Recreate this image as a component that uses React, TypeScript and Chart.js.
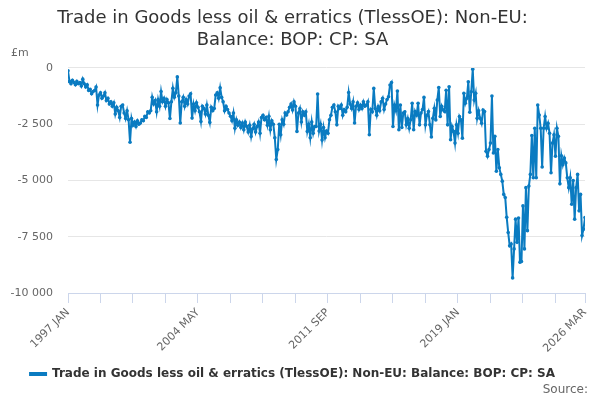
import React, { useEffect, useRef } from 'react';
import { Chart, registerables } from 'chart.js';

Chart.register(...registerables);

const START_YEAR = 1997;
const MONTHS = ['JAN', 'FEB', 'MAR', 'APR', 'MAY', 'JUN', 'JUL', 'AUG', 'SEP', 'OCT', 'NOV', 'DEC'];

// £m, monthly, 1997 JAN .. 2006 DEC
const balance1997to2006 = [
  -130, -600, -700, -550, -650, -750, -600, -700, -650, -800, -500, -700,
  -850, -750, -1000, -950, -1150, -1050, -1000, -850, -1650, -1200, -1100, -1350,
  -1250, -1100, -1450, -1350, -1600, -1500, -1700, -1550, -2050, -1750, -1900, -2200,
  -1700, -1650, -2000, -2250, -1900, -2300, -3300, -2250, -2550, -2400, -2600, -2350,
  -2500, -2450, -2300, -2350, -2150, -2200, -1950, -2000, -1900, -1300, -1600, -1450,
  -1950, -1400, -1700, -1050, -1500, -1350, -1700, -1400, -1550, -2250, -1500, -900,
  -1300, -1100, -400, -1250, -2450, -1500, -1300, -1700, -1400, -1600, -1250, -1150,
  -2230, -1600, -1900, -1550, -1750, -1950, -2380, -1700, -1800, -2050, -1650, -2100,
  -2420, -1750, -1900, -1800, -1200, -1100, -1350, -880, -1300, -1500, -1900, -1700,
  -1850, -2000, -2150, -2350, -2000, -2680, -2300, -2550, -2400, -2650, -2450, -2750,
];

// 2007 JAN .. 2016 DEC
const balance2007to2016 = [
  -2400, -2600, -2850, -2550, -3050, -2700, -2500, -2850, -2600, -2400, -2900, -2200,
  -2100, -2300, -2200, -2550, -2150, -2750, -2350, -2500, -3100, -4070, -3630, -2500,
  -2970, -2300, -2500, -2000, -2090, -1950, -1750, -1600, -1870, -1500, -1700, -2820,
  -2000, -1800, -2400, -1950, -2100, -1950, -2820, -2500, -3100, -2400, -2900, -2600,
  -2600, -1160, -2800, -2500, -3200, -2650, -3100, -2800, -2900, -2300, -2100, -1750,
  -1650, -1950, -2530, -1700, -1800, -1650, -2100, -1850, -1950, -1750, -1090, -1600,
  -1800, -1500, -2450, -1700, -1550, -1850, -1650, -1800, -1500, -1700, -1650, -1500,
  -2970, -1850, -1950, -910, -1800, -2100, -1720, -1900, -1500, -1350, -1850, -1600,
  -1400, -1280, -760, -650, -2600, -1650, -1900, -1030, -2750, -1650, -2650, -2000,
  -1950, -2530, -2250, -2680, -2300, -1570, -2750, -1940, -2100, -1570, -2530, -2000,
];

// 2017 JAN .. 2026 MAR
const balance2017to2026 = [
  -1850, -1310, -2530, -2100, -1940, -2530, -3070, -2240, -1790, -2310, -1430, -870,
  -2160, -1700, -1870, -1940, -990, -2530, -840, -3190, -2600, -2820, -3340, -2530,
  -2900, -2160, -2300, -3120, -1130, -1570, -1350, -620, -1970, -1060, -60, -1430,
  -1130, -2240, -1900, -2240, -2460, -1870, -1940, -3700, -3920, -3630, -3340, -1250,
  -3780, -3040, -4590, -3630, -4440, -4730, -5030, -5620, -5760, -6640, -7310, -7900,
  -7820, -9330, -8040, -6720, -7750, -6670, -8630, -8600, -6130, -8040, -5320, -7230,
  -5250, -4730, -3000, -4880, -2680, -4880, -1650, -2090, -2680, -4400, -2680, -2160,
  -2680, -2460, -2900, -4660, -3340, -2970, -3920, -2680, -3040, -5150, -3900, -4300,
  -4000, -4220, -4880, -5320, -4880, -6060, -5000, -6720, -5320, -4730, -6350, -5620,
  -7450, -7160, -6650,
];

const balance = [...balance1997to2006, ...balance2007to2016, ...balance2017to2026];

const monthLabels = balance.map((_, i) => `${START_YEAR + Math.floor(i / 12)} ${MONTHS[i % 12]}`);

const Y_TICKS = [0, -2500, -5000, -7500, -10000];
const X_TICK_STEP = 22;
const X_LABEL_EVERY = 4;

const TITLE_LINES = ['Trade in Goods less oil & erratics (TlessOE): Non-EU:', 'Balance: BOP: CP: SA'];
const SERIES_NAME = 'Trade in Goods less oil & erratics (TlessOE): Non-EU: Balance: BOP: CP: SA';
const UNIT_LABEL = '£m';
const SOURCE_LABEL = 'Source:';

const LINE_COLOR = '#0a7bc1';
const FONT = '"DejaVu Sans", sans-serif';

function formatThousands(v: number): string {
  const s = Math.abs(v).toString().replace(/\B(?=(\d{3})+(?!\d))/g, ' ');
  return (v < 0 ? '-' : '') + s;
}

const extraText = {
  id: 'extraText',
  afterDraw(chart: any) {
    const { ctx, chartArea } = chart;
    ctx.save();
    ctx.fillStyle = '#666666';
    ctx.textBaseline = 'middle';
    ctx.font = `11px ${FONT}`;
    ctx.textAlign = 'left';
    ctx.fillText(UNIT_LABEL, 11, chartArea.top - 15);
    ctx.font = `12px ${FONT}`;
    ctx.textAlign = 'right';
    ctx.fillText(SOURCE_LABEL, chart.width - 12, chart.height - 10);
    ctx.restore();
  },
};

export default function App() {
  const canvasRef = useRef<HTMLCanvasElement | null>(null);

  useEffect(() => {
    if (!canvasRef.current) return;
    const lastIndex = balance.length - 1;
    const chart = new Chart(canvasRef.current, {
      type: 'line',
      data: {
        datasets: [
          {
            label: SERIES_NAME,
            data: balance.map((v, i) => ({ x: i, y: v })),
            borderColor: LINE_COLOR,
            backgroundColor: LINE_COLOR,
            borderWidth: 2,
            pointRadius: 1.8,
            pointBorderWidth: 0,
            pointBackgroundColor: LINE_COLOR,
            tension: 0,
          },
        ],
      },
      options: {
        animation: false,
        responsive: true,
        maintainAspectRatio: false,
        layout: { padding: { left: 0, right: 15, top: 0, bottom: 10 } },
        plugins: {
          title: {
            display: true,
            text: TITLE_LINES,
            color: '#333333',
            font: { family: FONT, size: 18, weight: 'normal', lineHeight: 1.22 },
            padding: { top: 7, bottom: 17 },
          },
          legend: {
            display: true,
            position: 'bottom',
            labels: {
              color: '#333333',
              font: { family: FONT, size: 12, weight: 'bold' },
              boxWidth: 16,
              boxHeight: 2,
              padding: 8,
            },
          },
          tooltip: { enabled: false },
        },
        scales: {
          x: {
            type: 'linear',
            min: 0,
            max: lastIndex,
            afterBuildTicks: (scale: any) => {
              const ticks: { value: number }[] = [];
              for (let v = 0; v < lastIndex; v += X_TICK_STEP) ticks.push({ value: v });
              ticks.push({ value: lastIndex });
              scale.ticks = ticks;
            },
            afterFit: (scale: any) => {
              scale.height = 67;
            },
            ticks: {
              autoSkip: false,
              maxRotation: 45,
              minRotation: 45,
              color: '#666666',
              font: { family: FONT, size: 11 },
              padding: 3,
              callback: (value: any) => {
                const v = Number(value);
                if (v === lastIndex || (v % (X_TICK_STEP * X_LABEL_EVERY) === 0)) return monthLabels[v];
                return '';
              },
            },
            grid: {
              drawOnChartArea: false,
              drawTicks: true,
              tickLength: 10,
              color: '#ccd6eb',
            },
            border: { display: true, color: '#ccd6eb', width: 1 },
          },
          y: {
            type: 'linear',
            min: -10000,
            max: 0,
            afterBuildTicks: (scale: any) => {
              scale.ticks = Y_TICKS.map((v) => ({ value: v }));
            },
            afterFit: (scale: any) => {
              scale.width = 68;
            },
            ticks: {
              color: '#666666',
              font: { family: FONT, size: 11 },
              padding: 15,
              callback: (value: any) => formatThousands(Number(value)),
            },
            grid: { color: '#e6e6e6', drawTicks: false },
            border: { display: false },
          },
        },
      },
      plugins: [extraText],
    });
    return () => chart.destroy();
  }, []);

  return (
    <div style={{ position: 'absolute', left: 0, top: 0, width: 600, height: 400, background: '#ffffff' }}>
      <canvas ref={canvasRef} />
    </div>
  );
}
